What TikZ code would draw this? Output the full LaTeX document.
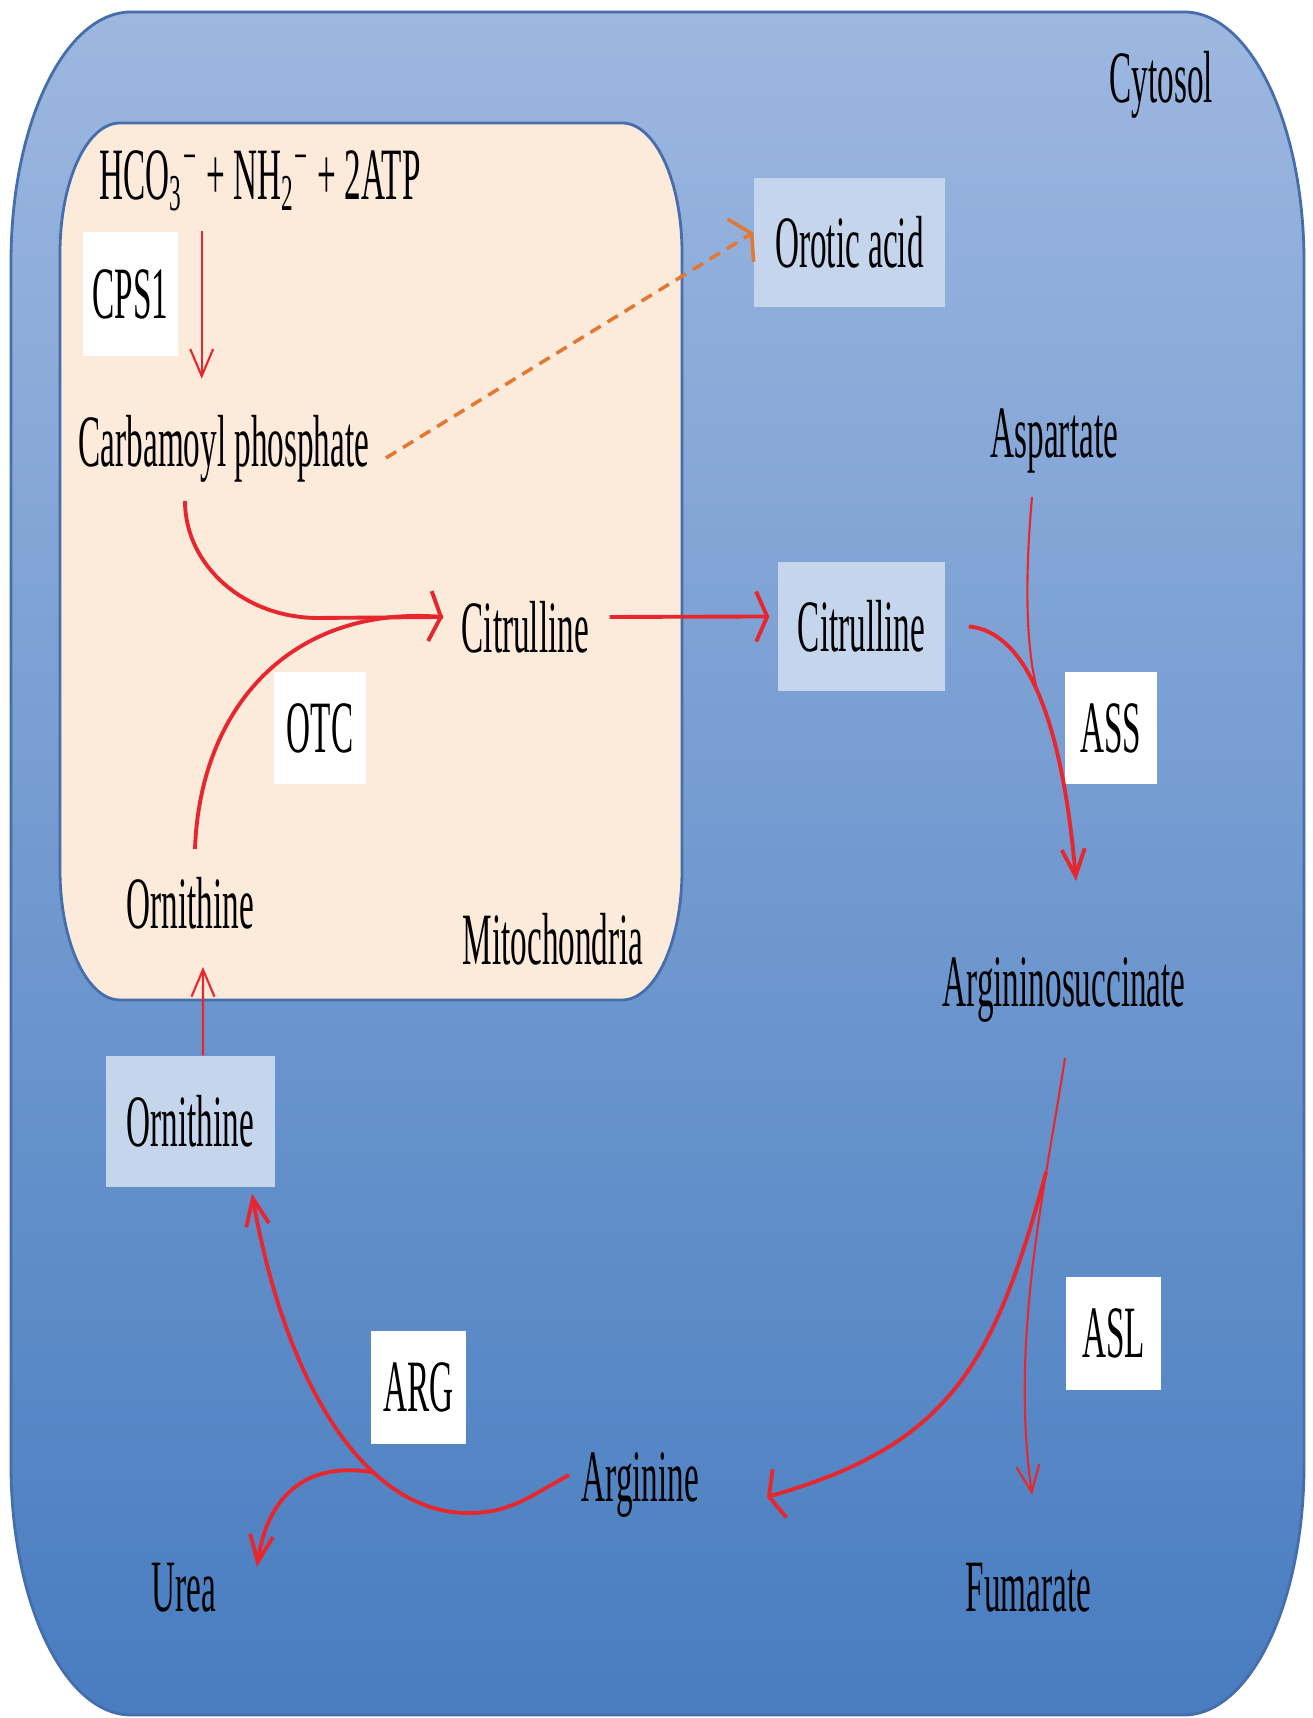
\documentclass[tikz,border=0pt]{standalone}
\usepackage{fontspec}
\setmainfont{Liberation Serif}[FakeStretch=0.45]
\usetikzlibrary{arrows.meta}
\definecolor{cytotop}{RGB}{157,183,224}
\definecolor{cytobot}{RGB}{72,125,192}
\definecolor{cytoedge}{RGB}{70,110,170}
\definecolor{mitofill}{RGB}{252,234,219}
\definecolor{metbox}{RGB}{197,213,236}
\definecolor{ureared}{RGB}{232,38,45}
\definecolor{orotorange}{RGB}{228,120,50}

\begin{document}
\begin{tikzpicture}[
  font=\fontsize{21}{25}\selectfont,
  lbl/.style={inner sep=0pt,anchor=base west},
  enz/.style={fill=white,inner sep=0pt,minimum width=0.95cm,minimum height=1.13cm},
  met/.style={fill=metbox,inner sep=0pt,minimum height=1.29cm},
  thinrx/.style={ureared,line width=0.6pt},
  thickrx/.style={ureared,line width=1.1pt},
  tipv/.style={-{Straight Barb[length=0.27cm,width=0.23cm]}},
  tiph/.style={-{Straight Barb[length=0.11cm,width=0.5cm]}}]

\fill[white] (0,0) rectangle (13.12,17.18);

% ================= COMPARTMENTS =================
\draw[cytoedge,line width=0.8pt,top color=cytotop,bottom color=cytobot]
  (0.11,14.56) arc[start angle=180,end angle=90,x radius=1.2,y radius=2.5]
  -- (11.84,17.06) arc[start angle=90,end angle=0,x radius=1.2,y radius=2.5]
  -- (13.04,2.53) arc[start angle=0,end angle=-90,x radius=1.2,y radius=2.5]
  -- (1.31,0.03) arc[start angle=270,end angle=180,x radius=1.2,y radius=2.5] -- cycle;
\draw[cytoedge,line width=0.8pt,fill=mitofill]
  (0.60,14.65) arc[start angle=180,end angle=90,x radius=0.6,y radius=1.3]
  -- (6.22,15.95) arc[start angle=90,end angle=0,x radius=0.6,y radius=1.3]
  -- (6.82,8.48) arc[start angle=0,end angle=-90,x radius=0.6,y radius=1.3]
  -- (1.20,7.18) arc[start angle=270,end angle=180,x radius=0.6,y radius=1.3] -- cycle;
\node[lbl] (cyto) at (11.09,16.15) {Cytosol};
\node[lbl] (mito) at (4.62,7.53) {Mitochondria};

% ================= MITOCHONDRIA =================
\node[lbl] (hco) at (0.99,15.18) {HCO\textsubscript{3}\textsuperscript{−} + NH\textsubscript{2}\textsuperscript{−} + 2ATP};
\node[enz,minimum height=1.24cm] (cps) at (1.305,14.24) {CPS1};
\node[lbl] (carb) at (0.78,12.51) {Carbamoyl phosphate};
\node[lbl] (citM) at (4.61,10.65) {Citrulline};
\node[enz,minimum width=0.92cm,minimum height=1.12cm] (otc) at (3.20,9.90) {OTC};
\node[lbl] (ornM) at (1.26,7.89) {Ornithine};

\draw[thinrx,tipv] ([xshift=0.23cm]cps.north east) -- ([xshift=0.23cm,yshift=-0.22cm]cps.south east);
\draw[thickrx] ([xshift=1.07cm,yshift=-0.34cm]carb.base west)
  arc[start angle=180,end angle=270,x radius=1.33,y radius=1.17]
  -- ([xshift=-0.18cm,yshift=0.36cm]citM.base west);
\draw[thickrx,tiph] ([xshift=0.69cm,yshift=0.80cm]ornM.base west)
  .. controls +(0.05,1.41) and +(-1.53,0.11) .. ([xshift=-0.18cm,yshift=0.36cm]citM.base west);

% ================= CYTOSOL =================
\node[met,minimum width=1.91cm] (orot) at (8.495,14.755) {Orotic acid};
\node[met,minimum width=1.67cm] (citC) at (8.615,10.915) {Citrulline};
\node[lbl] (asp) at (9.90,12.60) {Aspartate};
\node[enz,minimum width=0.92cm,minimum height=1.12cm] (ass) at (11.11,9.90) {ASS};
\node[lbl] (argsuc) at (9.42,7.11) {Argininosuccinate};
\node[enz] (asl) at (11.135,3.845) {ASL};
\node[lbl] (fum) at (9.65,1.06) {Fumarate};
\node[lbl] (arg) at (5.81,2.16) {Arginine};
\node[enz] (argE) at (4.185,3.305) {ARG};
\node[lbl] (urea) at (1.51,1.06) {Urea};
\node[met,minimum width=1.69cm,minimum height=1.31cm] (ornC) at (1.905,5.965) {Ornithine};
\coordinate (argdip) at (4.68,2.05);

\draw[orotorange,line width=1pt,dash pattern=on 0.12cm off 0.08cm,-{Straight Barb[length=0.13cm,width=0.5cm]}]
  ([xshift=0.16cm,yshift=0.09cm]carb.base east) -- ([yshift=0.1cm]orot.west);
\draw[thickrx,tiph] ([xshift=0.2cm,yshift=0.36cm]citM.base east) -- ([xshift=-0.08cm,yshift=0.1cm]citC.west);

% ASS
\draw[thickrx,tipv] ([xshift=0.23cm]citC.east)
  .. controls +(0.57,-0.05) and +(-0.14,1.63) .. ([xshift=1.34cm,yshift=1.26cm]argsuc.base west)
  coordinate[pos=0.5] (assjoin);
\draw[thinrx] ([xshift=0.42cm,yshift=-0.39cm]asp.base west)
  .. controls +(-0.08,-0.9) and +(-0.12,0.4) .. (assjoin);

% ASL
\draw[thinrx,tipv] ([xshift=1.23cm,yshift=-0.51cm]argsuc.base west)
  .. controls +(-0.2,-1.3) and +(-0.22,1.57) .. ([xshift=0.67cm,yshift=1.17cm]fum.base west)
  coordinate[pos=0.28] (asljoin);
\draw[thickrx,tiph] (asljoin)
  .. controls +(-0.52,-1.93) and +(1.83,0.52) .. ([xshift=0.67cm,yshift=0.05cm]arg.base east);

% ARG
\draw[thickrx,tipv] ([xshift=-0.12cm,yshift=0.27cm]arg.base west)
  .. controls +(-0.45,-0.25) and +(0.4,0) .. (argdip)
  .. controls +(-1.0,0) and +(0.35,-1.97) .. ([xshift=0.615cm,yshift=-0.06cm]ornC.south)
  coordinate[pos=0.34] (argjoin);
\draw[thickrx,tipv] (argjoin)
  .. controls +(-0.69,0.12) and +(0.10,0.69) .. ([xshift=1.06cm,yshift=0.45cm]urea.base west);

% back into the mitochondria
\draw[thinrx,tipv] ([xshift=0.125cm]ornC.north) -- ([xshift=0.77cm,yshift=-0.38cm]ornM.base west);
\end{tikzpicture}
\end{document}
